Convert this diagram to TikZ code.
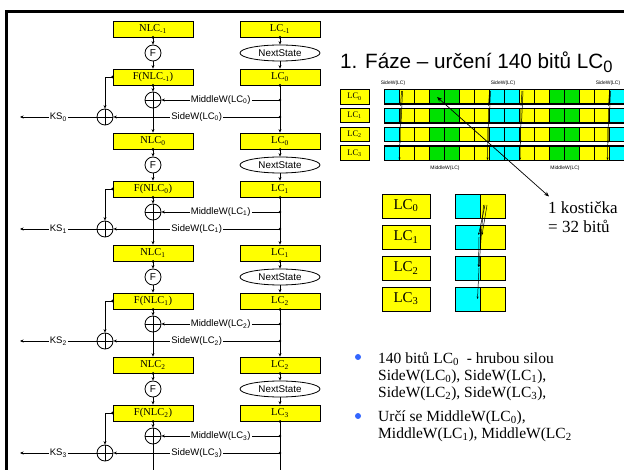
\documentclass[tikz,border=0pt]{standalone}
\usepackage{fontspec}
\setmainfont{Liberation Serif}
\setsansfont{Liberation Sans}
\usetikzlibrary{shapes,arrows.meta,positioning,calc}
\definecolor{boxyellow}{RGB}{255,255,0}
\definecolor{bitcyan}{RGB}{0,255,255}
\definecolor{bitgreen}{RGB}{0,225,0}
\definecolor{bulletblue}{RGB}{51,102,255}
\newcommand{\bigsub}[1]{\raisebox{-4pt}{\fontsize{16.5}{16.5}\selectfont #1}}

\begin{document}
\begin{tikzpicture}[x=1pt, y=-1pt,
        arrow/.style={-{Stealth[length=3.5pt,width=3pt]}, line width=0.8pt},
        tinyarrow/.style={-{Stealth[length=2.5pt,width=2pt]}, line width=0.5pt},
        regbox/.style={rectangle, draw, line width=0.8pt, fill=boxyellow, minimum width=80pt, minimum height=16pt, inner sep=0pt, font=\fontsize{10.5}{12}\selectfont},
        fcirc/.style={circle, draw, line width=0.8pt, minimum size=16pt, inner sep=0pt, font=\sffamily\fontsize{10}{12}\selectfont},
        nsell/.style={ellipse, draw, line width=0.8pt, minimum width=80pt, minimum height=16pt, inner sep=0pt, font=\sffamily\fontsize{9.8}{12}\selectfont},
        xorc/.style={circle, draw, line width=0.8pt, minimum size=16pt, inner sep=0pt, path picture={\draw[line width=0.8pt] (path picture bounding box.north) -- (path picture bounding box.south) (path picture bounding box.west) -- (path picture bounding box.east);}},
        wlabel/.style={fill=white, inner sep=1pt, font=\sffamily\fontsize{9.5}{11}\selectfont},
        jdot/.style={circle, fill, inner sep=0pt, minimum size=2.8pt},
        smallreg/.style={rectangle, draw, line width=0.8pt, fill=boxyellow, minimum width=29pt, minimum height=14.5pt, inner sep=0pt, font=\fontsize{8.5}{10}\selectfont},
        bigreg/.style={rectangle, draw, line width=0.8pt, fill=boxyellow, minimum width=48pt, minimum height=24pt, inner sep=0pt, font=\fontsize{15}{17}\selectfont},
        halfbox/.style={rectangle, draw, line width=0.8pt, fill=boxyellow, minimum width=50pt, minimum height=24pt, inner sep=0pt, path picture={\fill[bitcyan] (path picture bounding box.south west) rectangle (path picture bounding box.north); \draw[line width=0.8pt] (path picture bounding box.south) -- (path picture bounding box.north);}},
        tinylabel/.style={font=\sffamily\fontsize{5}{6}\selectfont, inner sep=0pt},
        bullettext/.style={anchor=north west, align=left, inner sep=0pt, font=\fontsize{15.5}{17}\selectfont}
    ]
        \useasboundingbox (0,0) rectangle (624,470);
        % slide frame
        \draw[line width=2.5pt] (6.5,470) -- (6.5,11.5) -- (624,11.5);

        % Left: keystream generator blocks
        \foreach \j in {0,...,3}{
            \pgfmathtruncatemacro{\p}{\j-1}
            \pgfmathsetmacro{\yy}{112*\j}
            \node[regbox] (nlc\j) at (153,29+\yy) {NLC\textsubscript{\p}};
            \node[fcirc] (f\j) at (153,53+\yy) {F};
            \node[regbox] (fn\j) at (153,77+\yy) {F(NLC\textsubscript{\p})};
            \node[xorc] (xm\j) at (153,100+\yy) {};
            \node[xorc] (xs\j) at (105,117+\yy) {};
            \node[regbox] (lc\j) at (280,29+\yy) {LC\textsubscript{\p}};
            \node[nsell] (ns\j) at (280,53+\yy) {NextState};
            \node[regbox] (lcn\j) at (280,77+\yy) {LC\textsubscript{\j}};
            \coordinate (jm\j) at (280,100+\yy);
            \coordinate (js\j) at (280,117+\yy);
            \coordinate (ks\j) at (20,117+\yy);

            \draw[arrow] (nlc\j) -- (f\j);
            \draw[arrow] (f\j) -- (fn\j);
            \draw[arrow] (fn\j) -- (xm\j);
            \draw[arrow] (lc\j) -- (ns\j);
            \draw[arrow] (ns\j) -- (lcn\j);
            \draw[arrow] (jm\j) -- node[wlabel] {MiddleW(LC\textsubscript{\j})} (xm\j);
            \draw[arrow] (js\j) -- node[wlabel] {SideW(LC\textsubscript{\j})} (xs\j);
            \draw[arrow] (xs\j) -- node[wlabel] {KS\textsubscript{\j}} (ks\j);
            \draw[arrow] (fn\j.west) -| (xs\j);

            \node[jdot] at (nlc\j.south) {};
            \node[jdot] at (fn\j.south) {};
            \node[jdot] at (fn\j.west) {};
            \node[jdot] at (lc\j.south) {};
            \node[jdot] at (lcn\j.south) {};
            \node[jdot] at (jm\j) {};
            \node[jdot] at (js\j) {};
        }
        \foreach \j [evaluate=\j as \n using int(\j+1)] in {0,1,2}{
            \draw[arrow] (xm\j) -- (nlc\n);
            \draw[arrow] (lcn\j) -- (lc\n);
        }
        \coordinate (nlcend) at (153,470);
        \coordinate (lcend) at (280,470);
        \draw[line width=0.8pt] (xm3) -- (nlcend);
        \draw[line width=0.8pt] (lcn3) -- (lcend);

        % Right: title
        \node[anchor=base west, inner sep=0pt, font=\sffamily\fontsize{20.7}{23}\selectfont] (title) at (340,69) {1. Fáze – určení 140 bitů LC\bigsub{0}};

        % bit strips
        \foreach \r in {0,...,3}{
            \pgfmathsetmacro{\ry}{89.5+18.8*\r}
            \node[smallreg] (slc\r) at (354.5,\ry+7.25) {LC\textsubscript{\r}};
            \foreach \c in {0,...,15}{
                \pgfmathtruncatemacro{\m}{mod(\c,8)}
                \def\cellcol{boxyellow}
                \ifnum\m=0 \def\cellcol{bitcyan}\fi
                \ifnum\m=7 \def\cellcol{bitcyan}\fi
                \ifnum\m=3 \def\cellcol{bitgreen}\fi
                \ifnum\m=4 \def\cellcol{bitgreen}\fi
                \filldraw[fill=\cellcol, draw=black, line width=0.5pt] (384+15*\c,\ry) rectangle ++(15,14.5);
            }
            \draw[line width=1pt] (384,\ry) rectangle (624,\ry+14.5);
        }
        \foreach \x in {393,503,608}
            \node[tinylabel] at (\x,83) {SideW(LC)};
        \foreach \x in {445,565}
            \node[tinylabel] at (\x,168) {MiddleW(LC)};
        \foreach \bx in {400.5,488.5,521,608.5}{
            \draw[tinyarrow] (\bx+1,91) -- (\bx,106);
            \draw[tinyarrow] (\bx+2,91) -- (\bx+0.5,124);
            \draw[tinyarrow] (\bx,109) -- (\bx-0.5,143);
            \draw[tinyarrow] (\bx-0.5,128) -- (\bx-1,160);
        }

        % one block = 32 bits
        \node[anchor=north west, align=left, inner sep=0pt, font=\fontsize{17}{19}\selectfont] (kost) at (548,201.5) {1 kostička\\= 32 bitů};
        \coordinate (bitcell) at (437,97);
        \draw[{Stealth[length=5pt,width=4pt]}-{Stealth[length=5pt,width=4pt]}, line width=0.7pt] (bitcell) -- ([shift={(1,-5)}]kost.north west);

        % registers and their words
        \foreach \r in {0,...,3}{
            \node[bigreg] (blc\r) at (406,206+31*\r) {LC\textsubscript{\r}};
            \node[halfbox] (bw\r) at (480,206+31*\r) {};
        }
        \draw[tinyarrow] (485,205) -- (478.5,235);
        \draw[tinyarrow] (487,205) -- (482,235);
        \draw[tinyarrow] (483.5,205) -- (479,267);
        \draw[tinyarrow] (479,237) -- (478.5,267);
        \draw[tinyarrow] (479,268) -- (477.5,299);

        % bullets
        \node[circle, fill=bulletblue, inner sep=0pt, minimum size=6pt] (b1) at (358,357) {};
        \node[circle, fill=bulletblue, inner sep=0pt, minimum size=6pt] (b2) at (358,416) {};
        \node[bullettext] (t1) at (378,352) {140 bitů LC\textsubscript{0}\ \ - hrubou silou\\SideW(LC\textsubscript{0}), SideW(LC\textsubscript{1}),\\SideW(LC\textsubscript{2}), SideW(LC\textsubscript{3}),};
        \node[bullettext] (t2) at (378,410.5) {Určí se MiddleW(LC\textsubscript{0}),\\MiddleW(LC\textsubscript{1}), MiddleW(LC\textsubscript{2}};
\end{tikzpicture}
\end{document}
